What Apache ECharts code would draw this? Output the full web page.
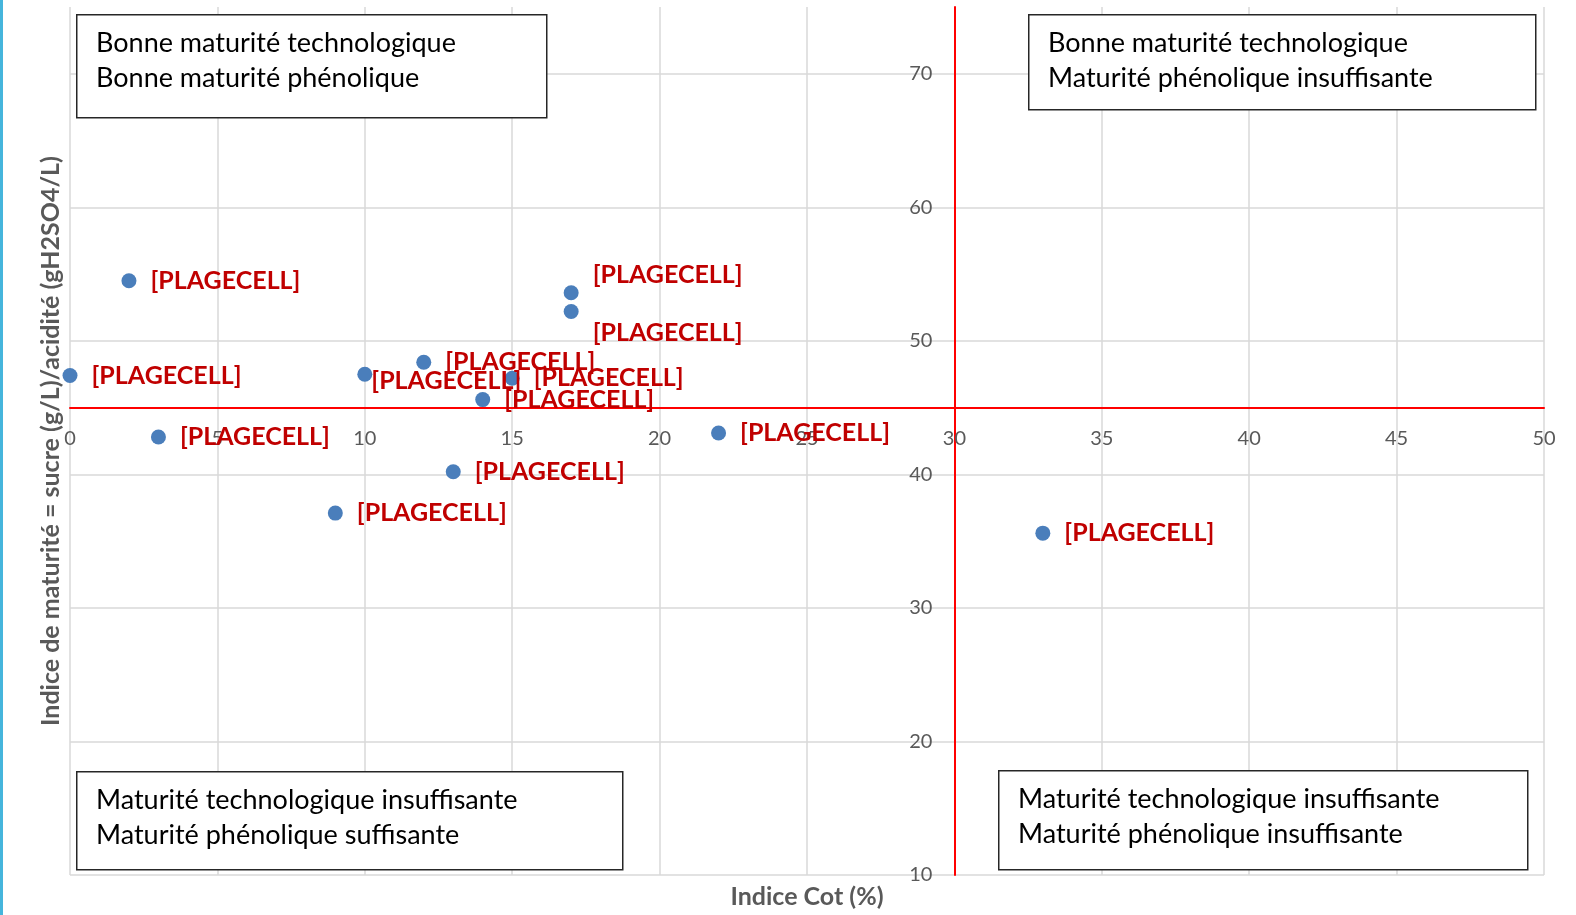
<!DOCTYPE html>
<html>
<head>
<meta charset="utf-8">
<script src="https://cdn.jsdelivr.net/npm/echarts@6/dist/echarts.min.js"></script>
<style>
  html, body { margin: 0; padding: 0; background: #fff; }
  #chart { width: 1576px; height: 915px; }
  #edge { position: absolute; left: 0; top: 0; width: 3px; height: 915px; background: #45b5dc; z-index: 5; }
</style>
</head>
<body>
<div id="edge"></div>
<div id="chart"></div>
<script>
// indice cot (%) / indice de maturite
const cotValues = [2, 0, 3, 10, 12, 15, 14, 17, 17, 13, 9, 22, 33];
const maturiteValues = [54.5, 47.4, 42.8, 47.5, 48.4, 47.2, 45.6, 53.6, 52.2, 40.2, 37.1, 43.1, 35.6];
const pointLabels = ['[PLAGECELL]', '[PLAGECELL]', '[PLAGECELL]', '[PLAGECELL]', '[PLAGECELL]', '[PLAGECELL]',
  '[PLAGECELL]', '[PLAGECELL]', '[PLAGECELL]', '[PLAGECELL]', '[PLAGECELL]', '[PLAGECELL]', '[PLAGECELL]'];
const quadrantTexts = [
  ['Bonne maturité technologique', 'Bonne maturité phénolique'],
  ['Bonne maturité technologique', 'Maturité phénolique insuffisante'],
  ['Maturité technologique insuffisante', 'Maturité phénolique suffisante'],
  ['Maturité technologique insuffisante', 'Maturité phénolique insuffisante']
];
const xName = 'Indice Cot (%)';
const yName = 'Indice de maturité = sucre (g/L)/acidité (gH2SO4/L)';

const FONT = 'Lato, "Open Sans", sans-serif';
const gray = '#595959';

// a few labels are nudged in the original to avoid overlaps
const labelNudge = { 3: [-15, 7], 7: [0, -18], 8: [0, 21] };

let seriesData = [];
for (let i = 0; i < cotValues.length; i++) {
  let item = { value: [cotValues[i], maturiteValues[i]], name: pointLabels[i] };
  if (labelNudge[i]) {
    item.label = { offset: labelNudge[i] };
  }
  seriesData.push(item);
}

// boxes: [x, y, w, h]
const boxRects = [[76, 14, 470, 103], [1028, 14, 507, 95], [76, 771, 546, 98], [998, 770, 529, 99]];
let graphics = [];
boxRects.forEach(function (r, i) {
  graphics.push({
    type: 'rect', left: r[0], top: r[1], z: 100,
    shape: { x: 0, y: 0, width: r[2], height: r[3] },
    style: { fill: '#fff', stroke: '#262626', lineWidth: 1.5 }
  });
  graphics.push({
    type: 'text', left: r[0] + 20, top: r[1] + 12, z: 101,
    style: { text: quadrantTexts[i].join('\n'), font: '27px ' + FONT, fill: '#000', lineHeight: 35 }
  });
});

const chart = echarts.init(document.getElementById('chart'));
chart.setOption({
  animation: false,
  grid: { left: 70, right: 32, top: 7, bottom: 40 },
  xAxis: [
    {
      type: 'value', min: 0, max: 50, interval: 5,
      position: 'top', offset: -400.6,
      axisLine: { onZero: false, lineStyle: { color: '#ff0000', width: 2 } },
      axisTick: { show: false },
      axisLabel: { inside: true, margin: 21, color: gray, fontSize: 20, fontFamily: FONT },
      splitLine: { lineStyle: { color: '#d9d9d9', width: 1.5 } }
    },
    {
      type: 'value', min: 0, max: 50, position: 'bottom',
      name: xName, nameLocation: 'middle', nameGap: 9,
      nameTextStyle: { color: gray, fontSize: 25, fontWeight: 'bold', fontFamily: FONT },
      axisLine: { show: false }, axisTick: { show: false }, axisLabel: { show: false },
      splitLine: { show: false }
    }
  ],
  yAxis: [
    {
      type: 'value', min: 10, max: 75, interval: 10,
      position: 'right', offset: -589.6,
      axisLine: { onZero: false, lineStyle: { color: '#ff0000', width: 2 } },
      axisTick: { show: false },
      axisLabel: { inside: true, margin: 22, showMaxLabel: false, color: gray, fontSize: 20, fontFamily: FONT },
      splitLine: { showMaxLine: false, lineStyle: { color: '#d9d9d9', width: 1.5 } }
    },
    {
      type: 'value', min: 10, max: 75, position: 'left',
      name: yName, nameLocation: 'middle', nameGap: 7,
      nameTextStyle: { color: gray, fontSize: 25, fontWeight: 'bold', fontFamily: FONT },
      axisLine: { show: false }, axisTick: { show: false }, axisLabel: { show: false },
      splitLine: { show: false }
    }
  ],
  series: [
    {
      type: 'scatter',
      xAxisIndex: 0,
      yAxisIndex: 0,
      symbolSize: 15,
      itemStyle: { color: '#4a7ebb', opacity: 1 },
      label: {
        show: true,
        position: 'right',
        distance: 14,
        formatter: '{b}',
        color: '#c00000',
        fontSize: 25,
        fontWeight: 'bold',
        fontFamily: FONT
      },
      data: seriesData
    }
  ],
  graphic: graphics
});
</script>
</body>
</html>
